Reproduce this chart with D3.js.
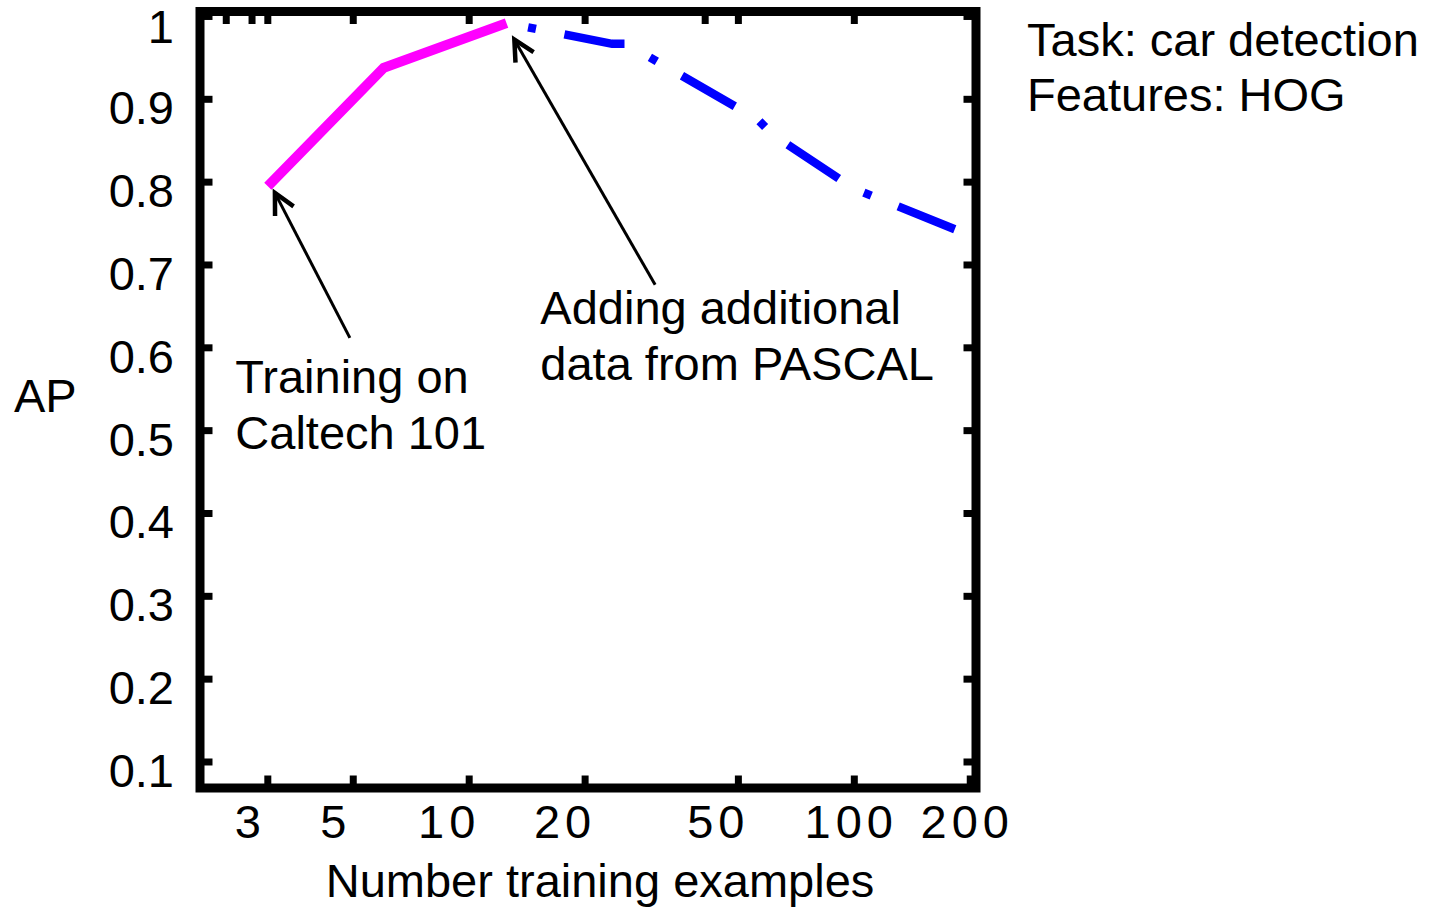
<!DOCTYPE html>
<html>
<head>
<meta charset="utf-8">
<script src="https://cdn.jsdelivr.net/npm/d3@7"></script>
<style>
  body { margin: 0; background: #fff; }
  text { font-family: "Liberation Sans", Arial, Helvetica, sans-serif; fill: #000; }
</style>
</head>
<body>
<svg width="1441" height="908"></svg>
<script>
// values
var caltechN = [3, 6, 12.5];
var caltechAP = [0.795, 0.938, 0.992];
var pascalN = [12.5, 23.5, 25.6, 56, 61.5, 100, 185];
var pascalAP = [0.992, 0.967, 0.967, 0.876, 0.857, 0.792, 0.742];

var xTicks = [3, 5, 10, 20, 50, 100, 200];
var xTickLabels = ["3", "5", "10", "20", "50", "100", "200"];
var topTicks = [2.34, 2.73, 3, 5, 10, 20, 41, 50, 100];
var yTicks = [0.1, 0.2, 0.3, 0.4, 0.5, 0.6, 0.7, 0.8, 0.9, 1];
var yTickLabels = ["0.1", "0.2", "0.3", "0.4", "0.5", "0.6", "0.7", "0.8", "0.9", "1"];

var infoLines = ["Task: car detection", "Features: HOG"];
var notes = [
  { lines: ["Training on", "Caltech 101"], at: [2.47, 0.546], from: [4.9, 0.612], to: [3.13, 0.787] },
  { lines: ["Adding additional", "data from PASCAL"], at: [15.3, 0.629], from: [30.4, 0.676], to: [13.1, 0.972] }
];

var svg = d3.select("svg");
var fs = 47;

var x = d3.scaleLog().domain([2, 207]).range([200, 976]);
var y = d3.scaleLinear().domain([0.0686, 1.006]).range([788, 11.5]);

var line = d3.line()
  .x(function(d) { return x(d[0]); })
  .y(function(d) { return y(d[1]); });

var caltech = caltechN.map(function(n, i) { return [n, caltechAP[i]]; });
var pascal = pascalN.map(function(n, i) { return [n, pascalAP[i]]; });

// data lines
svg.append("path")
  .attr("d", line(pascal))
  .attr("fill", "none")
  .attr("stroke", "#0000ff")
  .attr("stroke-width", 8.5)
  .attr("stroke-dasharray", "8,29,61,29")
  .attr("stroke-dashoffset", 105);

svg.append("path")
  .attr("d", line(caltech))
  .attr("fill", "none")
  .attr("stroke", "#ff00ff")
  .attr("stroke-width", 10);

// frame
var x0 = x.range()[0], x1 = x.range()[1];
var y0 = y.range()[0], y1 = y.range()[1];
svg.append("rect")
  .attr("x", x0).attr("y", y1)
  .attr("width", x1 - x0).attr("height", y0 - y1)
  .attr("fill", "none")
  .attr("stroke", "#000")
  .attr("stroke-width", 9);

var tickLen = 12.5;
var tickW = 7;

svg.selectAll("line.ytl").data(yTicks).enter().append("line")
  .attr("x1", x0).attr("x2", x0 + tickLen)
  .attr("y1", function(d) { return y(d); })
  .attr("y2", function(d) { return y(d); })
  .attr("stroke", "#000").attr("stroke-width", tickW);

svg.selectAll("line.ytr").data(yTicks).enter().append("line")
  .attr("x1", x1).attr("x2", x1 - tickLen)
  .attr("y1", function(d) { return y(d); })
  .attr("y2", function(d) { return y(d); })
  .attr("stroke", "#000").attr("stroke-width", tickW);

svg.selectAll("line.xtb").data(xTicks).enter().append("line")
  .attr("x1", function(d) { return x(d); })
  .attr("x2", function(d) { return x(d); })
  .attr("y1", y0).attr("y2", y0 - tickLen)
  .attr("stroke", "#000").attr("stroke-width", tickW);

svg.selectAll("line.xtt").data(topTicks).enter().append("line")
  .attr("x1", function(d) { return x(d); })
  .attr("x2", function(d) { return x(d); })
  .attr("y1", y1).attr("y2", y1 + tickLen)
  .attr("stroke", "#000").attr("stroke-width", tickW);

// tick labels
svg.selectAll("text.ylab").data(yTicks).enter().append("text")
  .attr("x", 174)
  .attr("y", function(d) { return Math.max(y(d) + 25, 43); })
  .attr("text-anchor", "end")
  .attr("font-size", fs)
  .text(function(d, i) { return yTickLabels[i]; });

svg.selectAll("text.xlab").data(xTicks).enter().append("text")
  .attr("x", function(d, i) { return x(d) + (xTickLabels[i].length > 2 ? -3 : -20); })
  .attr("y", 838)
  .attr("text-anchor", "middle")
  .attr("font-size", fs)
  .attr("letter-spacing", function(d, i) { return xTickLabels[i].length > 1 ? 5 : 0; })
  .text(function(d, i) { return xTickLabels[i]; });

// axis titles
svg.append("text")
  .attr("x", 14).attr("y", 412)
  .attr("font-size", fs)
  .text("AP");

svg.append("text")
  .attr("x", (x0 + x1) / 2 + 12).attr("y", 897)
  .attr("text-anchor", "middle")
  .attr("font-size", fs)
  .text("Number training examples");

svg.selectAll("text.info").data(infoLines).enter().append("text")
  .attr("x", 1027)
  .attr("y", function(d, i) { return 56 + i * 55; })
  .attr("font-size", fs)
  .text(function(d) { return d; });

// annotations with arrows
notes.forEach(function(n) {
  var t = svg.append("text")
    .attr("x", x(n.at[0]))
    .attr("y", y(n.at[1]))
    .attr("font-size", fs);
  n.lines.forEach(function(s, i) {
    t.append("tspan")
      .attr("x", x(n.at[0]))
      .attr("dy", i === 0 ? 0 : 56)
      .text(s);
  });

  var fx = x(n.from[0]), fy = y(n.from[1]);
  var tx = x(n.to[0]), ty = y(n.to[1]);
  svg.append("line")
    .attr("x1", fx).attr("y1", fy)
    .attr("x2", tx).attr("y2", ty)
    .attr("stroke", "#000").attr("stroke-width", 3);

  var ang = Math.atan2(fy - ty, fx - tx);
  var a = 27 * Math.PI / 180, L = 23;
  var head = [
    [tx + L * Math.cos(ang - a), ty + L * Math.sin(ang - a)],
    [tx, ty],
    [tx + L * Math.cos(ang + a), ty + L * Math.sin(ang + a)]
  ];
  svg.append("path")
    .attr("d", d3.line()(head))
    .attr("fill", "none")
    .attr("stroke", "#000")
    .attr("stroke-width", 4.5)
    .attr("stroke-linejoin", "miter");
});
</script>
</body>
</html>
